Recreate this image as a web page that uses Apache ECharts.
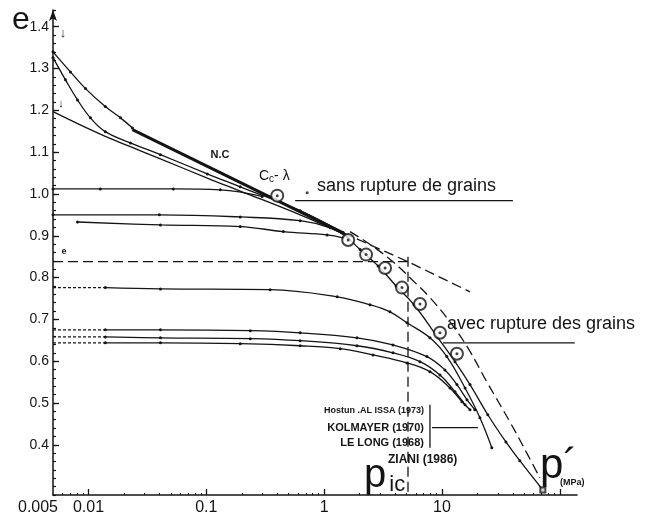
<!DOCTYPE html>
<html>
<head>
<meta charset="utf-8">
<script src="https://cdn.jsdelivr.net/npm/echarts@6/dist/echarts.min.js"></script>
<style>
  html, body { margin: 0; padding: 0; background: #fff; }
  #chart { width: 645px; height: 520px; }
</style>
</head>
<body>
<div id="chart"></div>
<script>
// axis ticks and labels
const xTickValues = [0.01, 0.1, 1, 10, 100];
const xMinorTicks = [0.006, 0.007, 0.008, 0.009, 0.02, 0.03, 0.04, 0.05, 0.06, 0.07, 0.08, 0.09,
  0.2, 0.3, 0.4, 0.5, 0.6, 0.7, 0.8, 0.9, 2, 3, 4, 5, 6, 7, 8, 9, 20, 30, 40, 50, 60, 70, 80, 90];
const xLabelValues = [0.005, 0.01, 0.1, 1, 10];
const xLabelText = ["0.005", "0.01", "0.1", "1", "10"];
const yMajorTicks = [0.4, 0.5, 0.6, 0.7, 0.8, 0.9, 1.0, 1.1, 1.2, 1.3, 1.4];

// curves, [p' (MPa), e]
const ncSolid = [[0.0236, 1.154], [1.45, 0.907]];
const ncDashed = [[1.45, 0.907], [5.15, 0.838], [17.3, 0.766]];
const curveTop = [[0.005, 1.34], [0.00703, 1.292], [0.00944, 1.252], [0.0139, 1.209], [0.0187, 1.182], [0.0236, 1.158]];
const curveB = [[0.005, 1.326], [0.00638, 1.273], [0.00807, 1.225], [0.0104, 1.182], [0.0139, 1.149],
  [0.0227, 1.122], [0.0408, 1.094], [0.102, 1.048], [0.194, 1.017], [0.626, 0.96], [1.45, 0.907]];
const curveC = [[0.005, 1.197], [0.0126, 1.143], [0.0227, 1.113], [0.0408, 1.084], [0.102, 1.038],
  [0.194, 1.007], [0.626, 0.95], [1.45, 0.905]];
const curve100 = [[0.005, 1.012], [0.0126, 1.012], [0.0525, 1.012], [0.1315, 1.01], [0.298, 0.994]];
const curve095 = [[0.005, 0.95], [0.04, 0.95], [0.194, 0.945], [0.626, 0.936], [1.124, 0.919], [1.6, 0.895]];
const curve094 = [[0.00807, 0.933], [0.0408, 0.926], [0.194, 0.922], [0.45, 0.91], [1.06, 0.902], [1.45, 0.895]];
const trunk = [[1.45, 0.907], [2.02, 0.867], [2.87, 0.828], [4.08, 0.78], [5.79, 0.735], [9.25, 0.656],
  [12.9, 0.599], [17.3, 0.544], [24.5, 0.472], [34.9, 0.407], [45.8, 0.362], [71.8, 0.292]];
const avecDashed = [[1.66, 0.91], [2.55, 0.876], [3.84, 0.838], [5.57, 0.795], [7.91, 0.752], [11.7, 0.694],
  [16.6, 0.632], [24.0, 0.551], [37.7, 0.455], [53.5, 0.376], [67.7, 0.321]];

const c078Start = [[0.005, 0.776], [0.0139, 0.776]];
const c078 = [[0.0139, 0.776], [0.0408, 0.773], [0.348, 0.771], [1.29, 0.754], [2.45, 0.735], [3.62, 0.718],
  [5.05, 0.692], [7.91, 0.656], [11.0, 0.611], [15.7, 0.536], [21.0, 0.465], [26.5, 0.393]];
const c068Start = [[0.005, 0.675], [0.0139, 0.675]];
const c068 = [[0.0139, 0.675], [0.0408, 0.675], [0.236, 0.673], [0.626, 0.668], [1.9, 0.656], [3.84, 0.639],
  [7.46, 0.611], [10.6, 0.579], [13.4, 0.544], [16.3, 0.508], [19.0, 0.484]];
const c066Start = [[0.005, 0.658], [0.0139, 0.658]];
const c066 = [[0.0139, 0.658], [0.0408, 0.656], [0.236, 0.654], [0.626, 0.649], [1.9, 0.637], [3.84, 0.62],
  [6.51, 0.599], [9.62, 0.567], [12.9, 0.527], [15.7, 0.496]];
const c064Start = [[0.005, 0.644], [0.0139, 0.644]];
const c064 = [[0.0139, 0.644], [0.0408, 0.644], [0.194, 0.642], [0.626, 0.637], [1.37, 0.63], [2.6, 0.615],
  [5.05, 0.596], [7.91, 0.575], [11.7, 0.536], [14.8, 0.503], [17.3, 0.484]];

const ccCircles = [[0.4, 0.996], [1.6, 0.89], [2.27, 0.855], [3.29, 0.823], [4.58, 0.776], [6.51, 0.737],
  [9.62, 0.668], [13.4, 0.618]];
const strayDots = [[0.718, 1.003]];
const endSquares = [[71.8, 0.292]];

// construction lines
const eLevel = [[0.005, 0.838], [5.15, 0.838]];
const picLine = [[5.15, 0.85], [5.15, 0.28]];
const sansLine = [[0.568, 0.984], [40.0, 0.984]];
const avecLine = [[10.2, 0.644], [134, 0.644]];
const bracketV = [[7.91, 0.496], [7.91, 0.393]];
const bracketH = [[8.23, 0.441], [20.2, 0.441]];

const INK = "#141414";
const FONT = '"Liberation Sans", Arial, sans-serif';
const LONG_DASH = [10, 5];
const SHORT_DASH = [3, 2];

const line = (data, opts = {}) => ({
  type: "line",
  data,
  smooth: opts.smooth === undefined ? 0.4 : opts.smooth,
  symbol: "circle",
  symbolSize: opts.symbolSize || 3,
  showSymbol: !!opts.dots,
  lineStyle: { color: INK, width: opts.width || 1.3, type: opts.dash || "solid" },
  itemStyle: { color: INK },
  silent: true,
  animation: false,
});

const chart = echarts.init(document.getElementById("chart"));

chart.setOption({
  backgroundColor: "#fff",
  animation: false,
  grid: { left: 53, right: 68, top: 10, bottom: 25 },
  xAxis: [
    {
      type: "log",
      logBase: 10,
      min: 0.005,
      max: 140,
      axisLine: { lineStyle: { color: INK, width: 1.5 } },
      axisTick: { inside: true, length: 6, customValues: xTickValues, lineStyle: { color: INK, width: 1.3 } },
      axisLabel: {
        customValues: xLabelValues,
        color: INK,
        fontFamily: FONT,
        fontSize: 16,
        margin: 5,
        formatter: (v) => {
          let best = 0;
          xLabelValues.forEach((x, i) => {
            if (Math.abs(Math.log10(x) - Math.log10(v)) < Math.abs(Math.log10(xLabelValues[best]) - Math.log10(v))) best = i;
          });
          return best === 0 ? "{o|" + xLabelText[0] + "}" : xLabelText[best];
        },
        rich: { o: { padding: [0, 30, 0, 0], fontSize: 16, fontFamily: FONT, color: INK } },
      },
      splitLine: { show: false },
    },
    {
      type: "log",
      logBase: 10,
      min: 0.005,
      max: 140,
      position: "bottom",
      axisLine: { show: false },
      axisTick: { inside: true, length: 2, customValues: xMinorTicks, lineStyle: { color: INK, width: 1 } },
      axisLabel: { show: false },
      splitLine: { show: false },
    },
  ],
  yAxis: [
    {
      type: "value",
      min: 0.28,
      max: 1.44,
      interval: 0.02,
      axisLine: { show: true, symbol: ["none", "arrow"], symbolSize: [6, 11], lineStyle: { color: INK, width: 1.5 } },
      axisTick: { inside: true, length: 3, lineStyle: { color: INK, width: 1.2 } },
      axisLabel: {
        color: INK,
        fontFamily: FONT,
        fontSize: 14,
        margin: 4,
        formatter: (v) => {
          const t = v * 10;
          if (Math.abs(t - Math.round(t)) > 1e-6 || v < 0.35 || v > 1.42) return "";
          return v.toFixed(1);
        },
      },
      splitLine: { show: false },
    },
    {
      type: "value",
      min: 0.28,
      max: 1.44,
      position: "left",
      axisLine: { show: false },
      axisTick: { inside: true, length: 6, customValues: yMajorTicks, lineStyle: { color: INK, width: 1.3 } },
      axisLabel: { show: false },
      splitLine: { show: false },
    },
  ],
  series: [
    line(ncSolid, { smooth: false, width: 3 }),
    line(ncDashed, { smooth: false, dash: LONG_DASH }),
    line(curveTop, { dots: true }),
    line(curveB, { dots: true }),
    line(curveC),
    line(curve100, { dots: true }),
    line(curve095, { dots: true }),
    line(curve094, { dots: true }),
    line(trunk, { dots: true }),
    line(avecDashed, { dash: LONG_DASH }),
    line(c078Start, { smooth: false, dash: SHORT_DASH }),
    line(c078, { dots: true }),
    line(c068Start, { smooth: false, dash: SHORT_DASH }),
    line(c068, { dots: true }),
    line(c066Start, { smooth: false, dash: SHORT_DASH }),
    line(c066, { dots: true }),
    line(c064Start, { smooth: false, dash: SHORT_DASH }),
    line(c064, { dots: true }),
    line(eLevel, { smooth: false, dash: LONG_DASH }),
    line(picLine, { smooth: false, dash: LONG_DASH }),
    line(sansLine, { smooth: false }),
    line(avecLine, { smooth: false }),
    line(bracketV, { smooth: false }),
    line(bracketH, { smooth: false }),
    {
      type: "scatter",
      data: ccCircles,
      symbol: "emptyCircle",
      symbolSize: 12,
      itemStyle: { color: INK, borderColor: INK, borderWidth: 1.5 },
      silent: true,
      z: 4,
    },
    {
      type: "scatter",
      data: ccCircles.concat(strayDots),
      symbol: "circle",
      symbolSize: 3,
      itemStyle: { color: INK },
      silent: true,
      z: 5,
    },
    {
      type: "scatter",
      data: endSquares,
      symbol: "emptyRect",
      symbolSize: 5,
      itemStyle: { color: INK, borderColor: INK, borderWidth: 1.3 },
      silent: true,
      z: 5,
    },
  ],
  graphic: [
    { type: "text", x: 21, y: 20, style: { text: "e", font: "32px " + FONT, fill: INK, align: "center", verticalAlign: "middle" } },
    { type: "text", x: 63, y: 33, style: { text: "↓", font: "13px " + FONT, fill: INK, align: "center", verticalAlign: "middle" } },
    { type: "text", x: 61, y: 104, style: { text: "↓", font: "11px " + FONT, fill: INK, align: "center", verticalAlign: "middle" } },
    { type: "text", x: 64, y: 252, style: { text: "e", font: "bold 9px " + FONT, fill: INK, align: "center", verticalAlign: "middle" } },
    { type: "text", x: 220, y: 155, style: { text: "N.C", font: "bold 11px " + FONT, fill: INK, align: "center", verticalAlign: "middle" } },
    {
      type: "text", x: 259, y: 176,
      style: {
        text: "{a|C}{b|c}{a|- λ}", fill: INK, verticalAlign: "middle",
        rich: {
          a: { fontFamily: FONT, fontSize: 14, fill: INK },
          b: { fontFamily: FONT, fontSize: 10, fill: INK, padding: [6, 0, 0, 0] },
        },
      },
    },
    { type: "text", x: 317, y: 186, style: { text: "sans rupture de grains", font: "18px " + FONT, fill: INK, verticalAlign: "middle" } },
    { type: "text", x: 447, y: 324, style: { text: "avec rupture des grains", font: "18px " + FONT, fill: INK, verticalAlign: "middle" } },
    { type: "text", x: 424, y: 411, style: { text: "Hostun .AL ISSA (1973)", font: "bold 9px " + FONT, fill: INK, align: "right", verticalAlign: "middle" } },
    { type: "text", x: 424, y: 428, style: { text: "KOLMAYER (1970)", font: "bold 11px " + FONT, fill: INK, align: "right", verticalAlign: "middle" } },
    { type: "text", x: 424, y: 443, style: { text: "LE LONG (1968)", font: "bold 11px " + FONT, fill: INK, align: "right", verticalAlign: "middle" } },
    { type: "text", x: 388, y: 460, style: { text: "ZIANI (1986)", font: "bold 12px " + FONT, fill: INK, verticalAlign: "middle" } },
    {
      type: "text", x: 364, y: 476,
      style: {
        text: "{p|p}{s|ic}", fill: INK, verticalAlign: "middle",
        rich: {
          p: { fontFamily: FONT, fontSize: 40, fill: INK },
          s: { fontFamily: FONT, fontSize: 22, fill: INK, padding: [18, 0, 0, 3] },
        },
      },
    },
    { type: "text", x: 540, y: 466, style: { text: "p´", font: "42px " + FONT, fill: INK, verticalAlign: "middle" } },
    { type: "text", x: 560, y: 483, style: { text: "(MPa)", font: "bold 9px " + FONT, fill: INK, verticalAlign: "middle" } },
  ],
});
</script>
</body>
</html>
